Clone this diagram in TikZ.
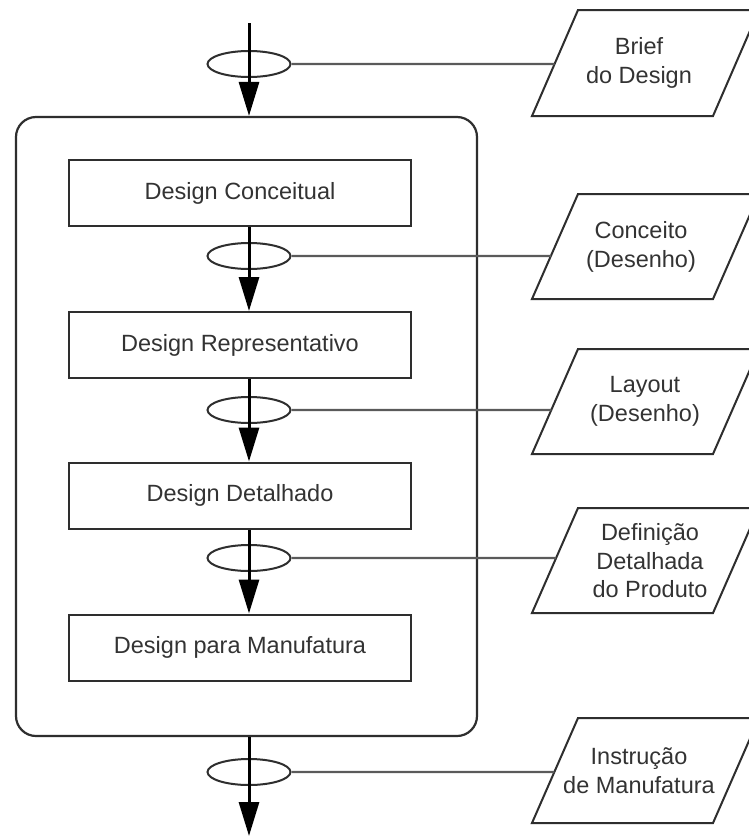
\documentclass[tikz,border=0pt]{standalone}
\usepackage{fontspec}
\setmainfont{Liberation Sans}
\usetikzlibrary{arrows.meta,shapes.geometric}
\definecolor{linecol}{HTML}{2E2E2E}
\definecolor{lnkcol}{HTML}{5A5A5A}
\definecolor{txtcol}{HTML}{333333}
\newcommand\mypgram[3]{% name, top y, bottom y
  \coordinate (#1bl) at (532,#3);
  \coordinate (#1tl) at (578,#2);
  \coordinate (#1tr) at (759,#2);
  \coordinate (#1br) at (713,#3);
  \draw[para] (#1bl) -- (#1tl) -- (#1tr) -- (#1br) -- cycle;
}
\begin{document}
\begin{tikzpicture}[x=1pt,y=-1pt,
  stage/.style={draw=linecol, line width=2pt, minimum width=342pt, minimum height=66pt,
    inner sep=0pt, font=\fontsize{23.5}{28}\selectfont, text=txtcol},
  outerbox/.style={draw=linecol, line width=2.2pt, rounded corners=20pt, minimum width=461pt,
    minimum height=619pt, inner sep=0pt},
  ring/.style={draw=linecol, ellipse, line width=2pt, minimum width=83pt, minimum height=26pt,
    inner sep=0pt},
  flow/.style={draw=black, line width=3pt, -{Triangle[length=34pt,width=20pt]}},
  link/.style={draw=lnkcol, line width=2.2pt},
  para/.style={draw=linecol, line width=2pt, line join=miter},
  lbl/.style={align=center, inner sep=0pt, font=\fontsize{23.5}{28.5}\selectfont, text=txtcol}
]
\useasboundingbox (0,0) rectangle (749,836);
\fill[white] (0,0) rectangle (749,836);
\clip (0,0) rectangle (749,836);

% outer rounded container
\node[outerbox] (outer) at (246.5,426.5) {};

% stage boxes
\node[stage] (b1) at (240,193) {Design Conceitual};
\node[stage] (b2) at (240,345) {Design Representativo};
\node[stage] (b3) at (240,495.5) {Design Detalhado};
\node[stage] (b4) at (240,647.5) {Design para Manufatura};

% ellipses
\node[ring] (e0) at (249,64) {};
\node[ring] (e1) at (249,256) {};
\node[ring] (e2) at (249,410) {};
\node[ring] (e3) at (249,558) {};
\node[ring] (e4) at (249,772) {};

% flow arrows
\coordinate (start) at (249,23);
\coordinate (finish) at (249,836);
\draw[flow] (start) -- (outer.north -| start);
\draw[flow] (b1.south -| start) -- (b2.north -| start);
\draw[flow] (b2.south -| start) -- (b3.north -| start);
\draw[flow] (b3.south -| start) -- (b4.north -| start);
\draw[flow] (outer.south -| start) -- (finish);

% parallelograms
\mypgram{p0}{10}{116}
\mypgram{p1}{194}{299}
\mypgram{p2}{349}{454}
\mypgram{p3}{508}{613}
\mypgram{p4}{718}{823}

\node[lbl] (t0) at (639,63) {Brief\\do Design};
\node[lbl] (t1) at (641,247) {Conceito\\(Desenho)};
\node[lbl] (t2) at (645,401.5) {Layout\\(Desenho)};
\node[lbl] (t3) at (650,561) {Definição\\Detalhada\\do Produto};
\node[lbl] (t4) at (639,770.5) {Instrução\\de Manufatura};

% links
\draw[link] (e0.east) -- (intersection of e0.east--e0.center and p0bl--p0tl);
\draw[link] (e1.east) -- (intersection of e1.east--e1.center and p1bl--p1tl);
\draw[link] (e2.east) -- (intersection of e2.east--e2.center and p2bl--p2tl);
\draw[link] (e3.east) -- (intersection of e3.east--e3.center and p3bl--p3tl);
\draw[link] (e4.east) -- (intersection of e4.east--e4.center and p4bl--p4tl);
\end{tikzpicture}
\end{document}
